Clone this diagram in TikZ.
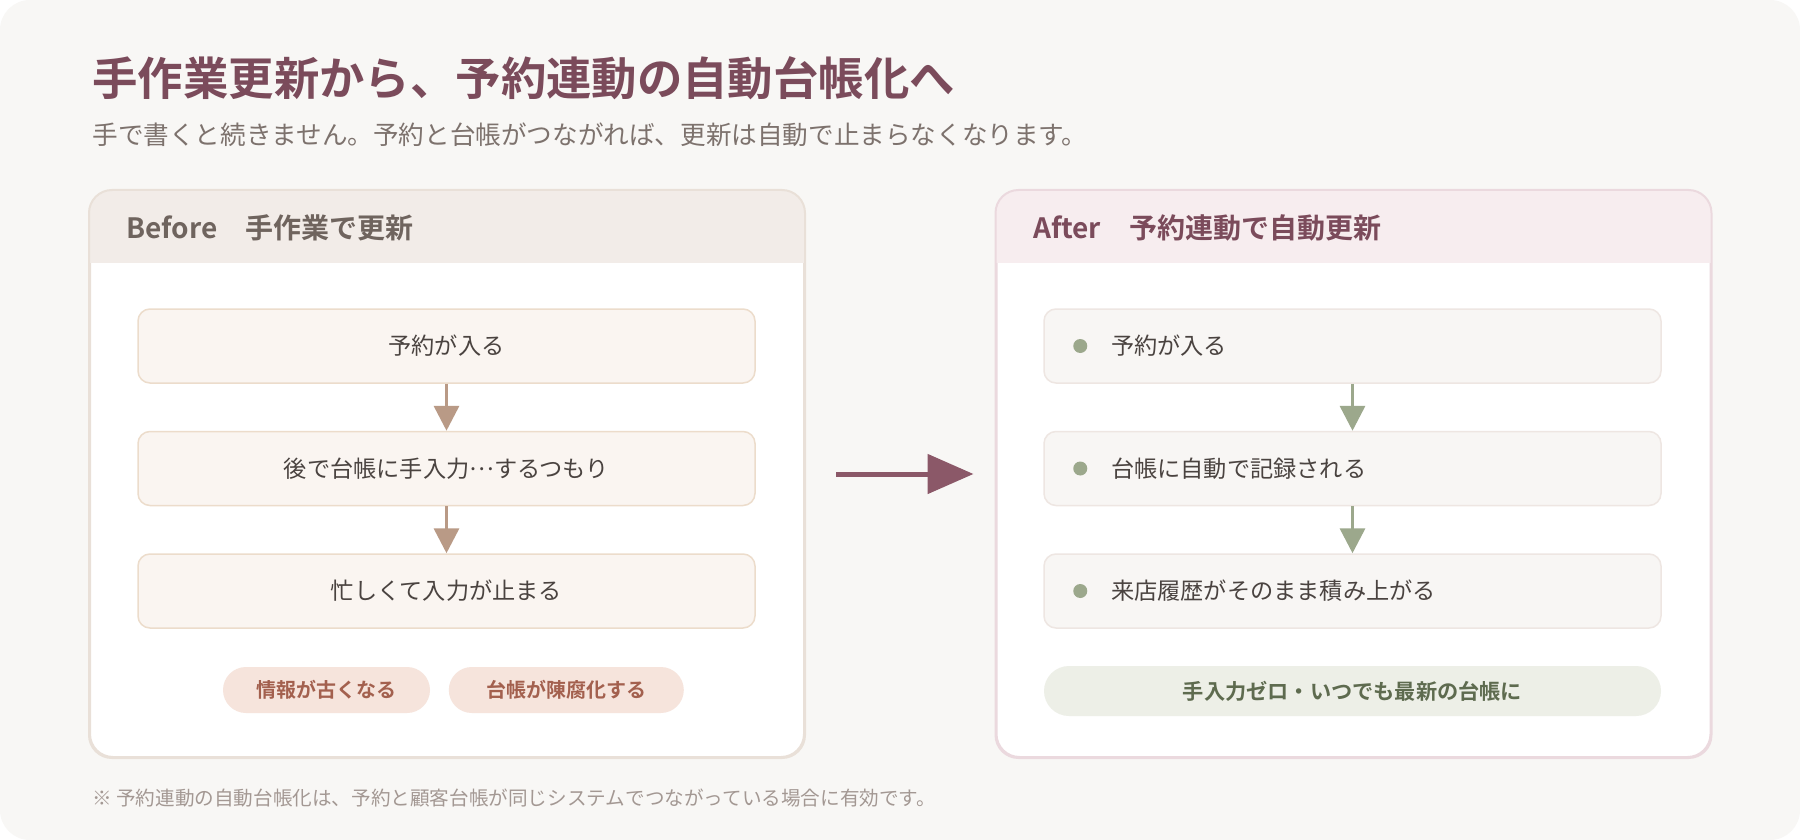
\documentclass[tikz,border=0pt]{standalone}
\usepackage{fontspec}
\setmainfont{Noto Sans CJK JP}[BoldFont={Noto Sans CJK JP Bold}]
\usetikzlibrary{arrows.meta, positioning}

\definecolor{pagebg}{HTML}{F8F7F5}
\definecolor{titlecol}{HTML}{7B4B5B}
\definecolor{subcol}{HTML}{7D726D}
\definecolor{bodytext}{HTML}{4A4340}
\definecolor{beforeedge}{HTML}{E9E0D8}
\definecolor{beforehead}{HTML}{F2ECE8}
\definecolor{beforetitle}{HTML}{6F645E}
\definecolor{afteredge}{HTML}{EBD9DE}
\definecolor{afterhead}{HTML}{F7EDEF}
\definecolor{stepfill}{HTML}{FAF5F1}
\definecolor{stepedge}{HTML}{ECDCCB}
\definecolor{tanarrow}{HTML}{B99A86}
\definecolor{warnfill}{HTML}{F6E4DC}
\definecolor{warntext}{HTML}{A3604E}
\definecolor{bigarrow}{HTML}{8B5868}
\definecolor{autofill}{HTML}{F8F6F4}
\definecolor{autoedge}{HTML}{EEE6E2}
\definecolor{sage}{HTML}{9CA88C}
\definecolor{goodfill}{HTML}{EDEFE7}
\definecolor{goodtext}{HTML}{5E6B4F}
\definecolor{notecol}{HTML}{A39893}

\begin{document}
\begin{tikzpicture}[x=0.5pt, y=-0.5pt,
    node distance=23.5pt and 9pt,
    panel/.style={draw, line width=1pt, fill=white, rounded corners=11.5pt, minimum width=357pt, minimum height=283pt},
    plain/.style={anchor=west, inner sep=0pt},
    headtext/.style={plain, font=\fontsize{14pt}{16pt}\selectfont\bfseries},
    stepbox/.style={draw=stepedge, fill=stepfill, line width=0.75pt, rounded corners=6pt, minimum width=308.5pt, minimum height=37pt, text=bodytext, font=\fontsize{11.6pt}{13pt}\selectfont},
    autobox/.style={stepbox, draw=autoedge, fill=autofill, text width=241.5pt, inner xsep=33.5pt, align=left},
    warnpill/.style={fill=warnfill, text=warntext, rounded corners=11.5pt, minimum height=23pt, font=\fontsize{10pt}{12pt}\selectfont\bfseries},
    dot/.style={circle, fill=sage, inner sep=0pt, minimum size=7pt},
    flow/.style={line width=1.75pt, -{Triangle[length=12.5pt, width=12.5pt]}}
]
    \useasboundingbox (0,0) rectangle (1800,840);
    \fill[white] (0,0) rectangle (1800,840);
    \fill[pagebg, rounded corners=15pt] (0,0) rectangle (1800,840);

    % Title
    \node[plain, text=titlecol, font=\fontsize{22.7pt}{26pt}\selectfont\bfseries] (title) at (92,78) {手作業更新から、予約連動の自動台帳化へ};
    \node[plain, text=subcol, font=\fontsize{12.8pt}{15pt}\selectfont] (subtitle) at (92,135) {手で書くと続きません。予約と台帳がつながれば、更新は自動で止まらなくなります。};

    % Panels
    \node[panel, draw=beforeedge] (before) at (447,474) {};
    \node[panel, draw=afteredge] (after) at (1353.5,474) {};
    \begin{scope}
        \clip[rounded corners=11.5pt] (before.north west) rectangle (before.south east);
        \fill[beforehead] (before.north west) rectangle ([yshift=-36.5pt]before.north east);
    \end{scope}
    \begin{scope}
        \clip[rounded corners=11.5pt] (after.north west) rectangle (after.south east);
        \fill[afterhead] (after.north west) rectangle ([yshift=-36.5pt]after.north east);
    \end{scope}
    \draw[beforeedge, line width=1pt, rounded corners=11.5pt] (before.north west) rectangle (before.south east);
    \draw[afteredge, line width=1pt, rounded corners=11.5pt] (after.north west) rectangle (after.south east);

    \node[headtext, text=beforetitle] (beforehd) at (126,228) {Before　手作業で更新};
    \node[headtext, text=titlecol] (afterhd) at (1033,228) {After　予約連動で自動更新};

    % Before: manual steps
    \node[stepbox] (b1) at (446.5,346) {予約が入る};
    \node[stepbox, below=of b1] (b2) {後で台帳に手入力\raisebox{0.3em}{…}するつもり};
    \node[stepbox, below=of b2] (b3) {忙しくて入力が止まる};
    \draw[flow, tanarrow] (b1) -- (b2);
    \draw[flow, tanarrow] (b2) -- (b3);

    \node[warnpill, minimum width=103.5pt] (w1) at (326.5,690) {情報が古くなる};
    \node[warnpill, minimum width=117.5pt, right=of w1] (w2) {台帳が陳腐化する};

    % After: linked steps
    \node[autobox] (a1) at (1352.5,346) {予約が入る};
    \node[autobox, below=of a1] (a2) {台帳に自動で記録される};
    \node[autobox, below=of a2] (a3) {来店履歴がそのまま積み上がる};
    \node[dot] (d1) at ([xshift=18.5pt]a1.west) {};
    \node[dot] (d2) at ([xshift=18.5pt]a2.west) {};
    \node[dot] (d3) at ([xshift=18.5pt]a3.west) {};
    \draw[flow, sage] (a1) -- (a2);
    \draw[flow, sage] (a2) -- (a3);

    \node[fill=goodfill, text=goodtext, rounded corners=12.5pt, minimum width=308.5pt, minimum height=25pt, font=\fontsize{10.6pt}{12pt}\selectfont\bfseries] (good) at (1352.5,691) {手入力ゼロ・いつでも最新の台帳に};

    % Big arrow
    \draw[bigarrow, line width=2.5pt, -{Triangle[length=23pt, width=19.5pt]}] ([xshift=15.5pt]before.east) -- ([xshift=-11pt]after.west);

    % Footnote
    \node[plain, text=notecol, font=\fontsize{9.8pt}{11pt}\selectfont] (note) at (92,798) {※ 予約連動の自動台帳化は、予約と顧客台帳が同じシステムでつながっている場合に有効です。};
\end{tikzpicture}
\end{document}
